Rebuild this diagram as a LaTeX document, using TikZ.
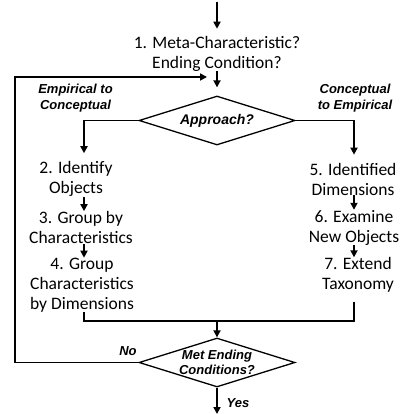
\documentclass[tikz,border=0pt]{standalone}
\usepackage{fontspec}
\setmainfont{Carlito}
\newfontfamily\labfont{Liberation Sans}
\usetikzlibrary{arrows.meta,shapes.geometric}
\tikzset{
  txt/.style={inner sep=0pt, align=center, font=\fontsize{17.5}{20}\selectfont},
  lbl/.style={inner sep=0pt, align=center, font=\labfont\bfseries\itshape\fontsize{13}{16}\selectfont},
  dia/.style={diamond, draw, line width=1.3pt, aspect=3.25, minimum width=156pt, minimum height=49pt, inner sep=0pt},
  dtxt/.style={inner sep=0pt, align=center, font=\labfont\bfseries\itshape\fontsize{13}{15}\selectfont},
  conn/.style={line width=1.7pt},
  arr/.style={conn, -{Triangle[length=7pt,width=7pt]}}
}
\begin{document}
\begin{tikzpicture}[x=1pt,y=-1pt]
\useasboundingbox (0,0) rectangle (408,414);
% helper coordinates
\coordinate (top) at (217,2);
\coordinate (ax) at (84,0);
\coordinate (bx) at (354,0);
\coordinate (lx) at (15,77);
\coordinate (loopend) at (207,77);
\coordinate (m) at (217,321);
\coordinate (bot) at (217,414);
% nodes
\node[txt] (n1) at (217,53.5) {1. Meta-Characteristic?\\Ending Condition?};
\node[dia] (d1) at (217,120.5) {};
\node[dtxt, font=\labfont\bfseries\itshape\fontsize{14}{16}\selectfont] (d1t) at (d1.center) {Approach?};
\node[lbl] (le) at (75.5,98) {Empirical to\\Conceptual};
\node[lbl] (ri) at (355,98) {Conceptual\\to Empirical};
\node[txt] (n2) at (76,179) {2. Identify\\Objects};
\node[txt] (n3) at (81,227.5) {3. Group by\\Characteristics};
\node[txt] (n4) at (82,285) {4. Group\\Characteristics\\by Dimensions};
\node[txt] (n5) at (353,179) {5. Identified\\Dimensions};
\node[txt] (n6) at (354,227.5) {6. Examine\\New Objects};
\node[txt] (n7) at (358,275) {7. Extend\\Taxonomy};
\node[dia] (d2) at (217,362.5) {};
\node[dtxt] (d2t) at (d2.center) {Met Ending\\Conditions?};
\node[lbl] (no) at (128,351) {No};
\node[lbl] (yes) at (238,403) {Yes};
% connectors
\draw[arr, shorten >=7pt] (top) -- (n1.north);
\draw[arr, shorten >=8pt] (n1.south) -- (d1.north);
\draw[arr, shorten >=8pt] (d1.west) -| (n2.north -| ax);
\draw[arr, shorten >=8pt] (d1.east) -| (n5.north -| bx);
\draw[arr] (n2.south -| ax) -- (n3.north -| ax);
\draw[arr] (n3.south -| ax) -- (n4.north -| ax);
\draw[arr] (n5.south -| bx) -- (n6.north -| bx);
\draw[arr] (n6.south -| bx) -- (n7.north -| bx);
\draw[conn] (n4.south -| ax) |- (m);
\draw[conn] ([yshift=-9pt]n7.south -| bx) |- (m);
\draw[arr] (m) -- (d2.north);
\draw[arr] (d2.south) -- (bot);
\draw[arr] (d2.west) -| (lx) -- (loopend);
\end{tikzpicture}
\end{document}
